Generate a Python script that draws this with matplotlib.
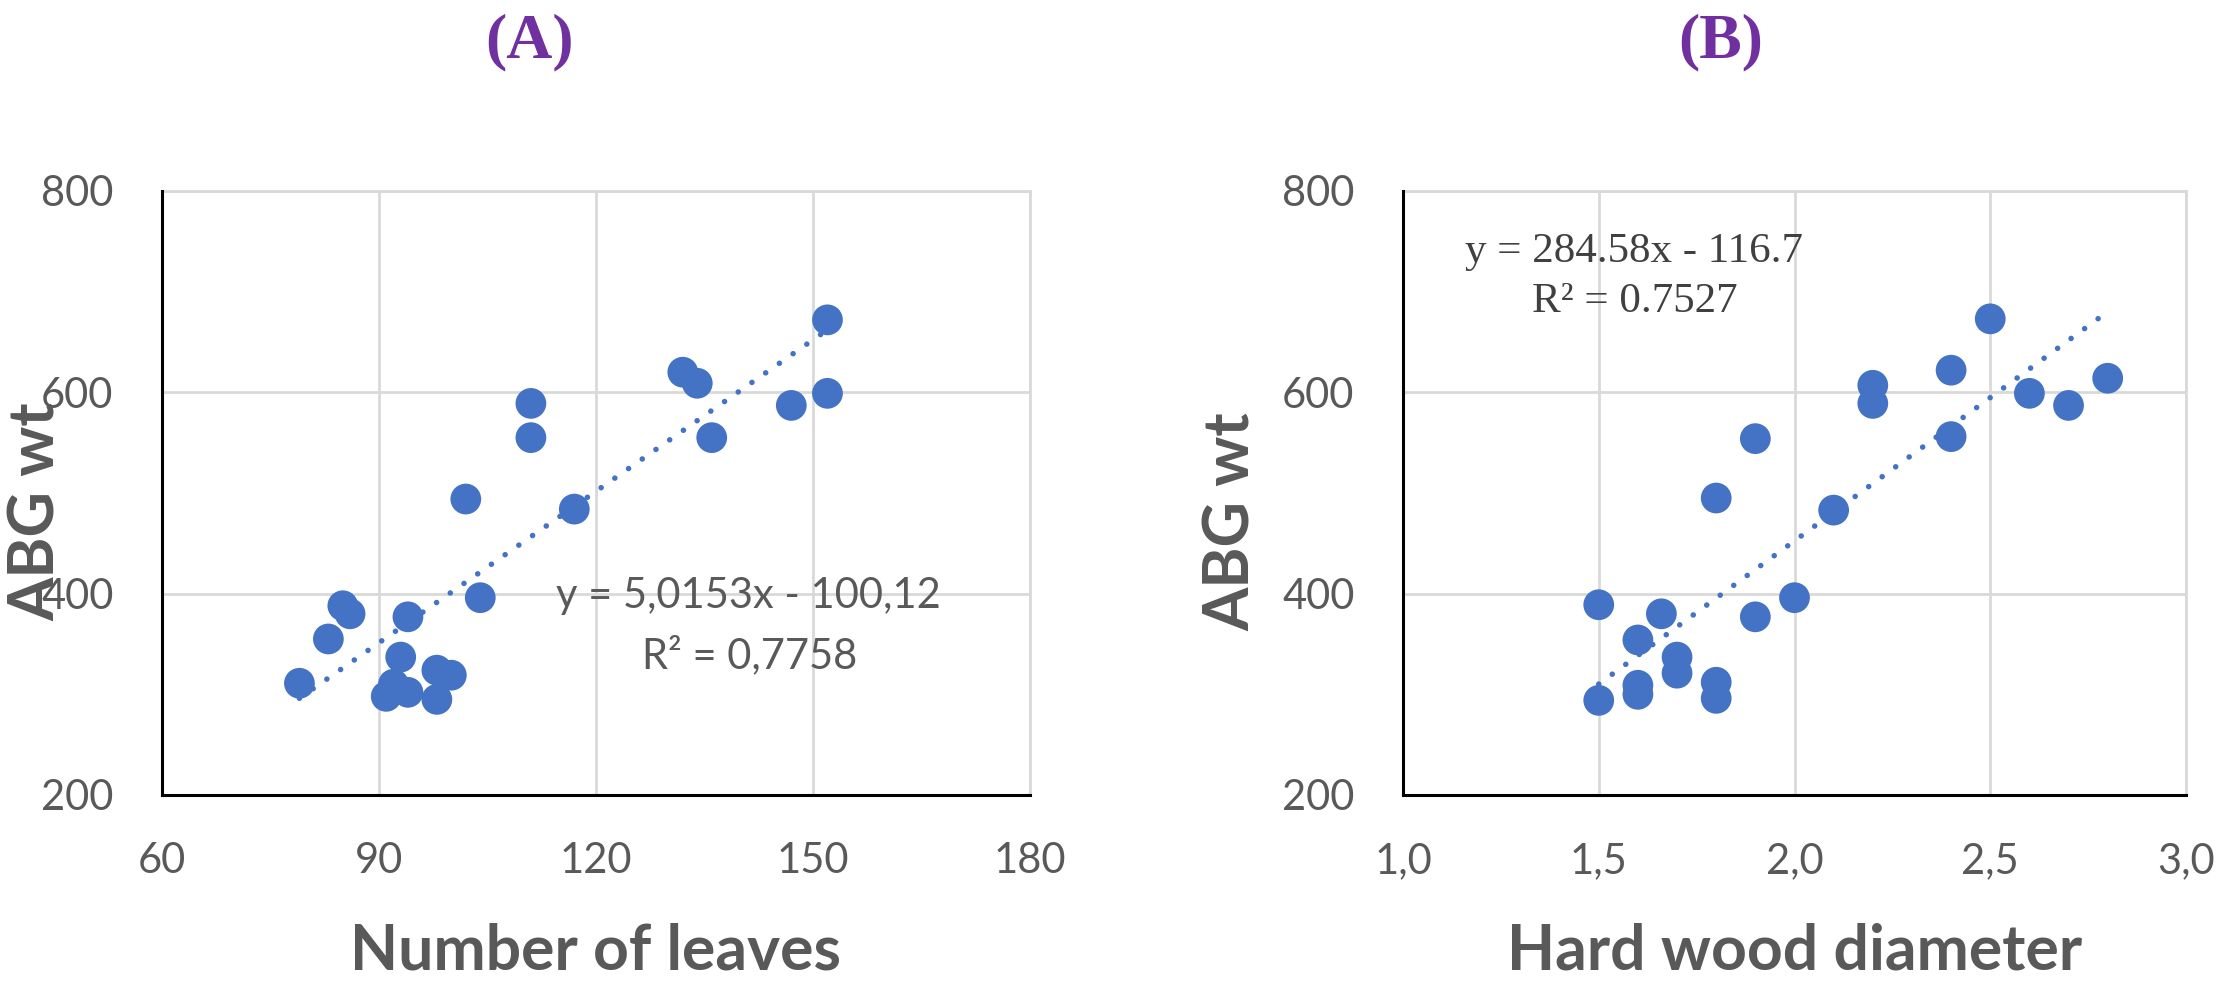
import matplotlib
matplotlib.use("Agg")
import matplotlib.pyplot as plt
import numpy as np

# ---------------- data ----------------
leaves = [79, 83, 85, 86, 91, 92, 93, 94, 94, 98, 98, 100, 102, 104, 111, 111, 117, 132, 134, 136, 147, 152, 152]
abg_a = [311, 355, 388, 380, 298, 310, 337, 377, 302, 324, 295, 319, 494, 396, 589, 555, 484, 620, 609, 555, 587, 672, 599]

diameter = [1.5, 1.5, 1.6, 1.6, 1.6, 1.66, 1.7, 1.7, 1.8, 1.8, 1.8, 1.9, 1.9, 2.0, 2.1, 2.2, 2.2, 2.4, 2.4, 2.5, 2.6, 2.7, 2.8]
abg_b = [389, 294, 354, 309, 300, 380, 337, 321, 495, 312, 296, 554, 377, 396, 483, 607, 589, 622, 556, 673, 599, 587, 614]

trend_a = (5.0153, -100.12)
trend_b = (284.58, -116.7)

xticks_a = [60, 90, 120, 150, 180]
xticklabels_a = ["60", "90", "120", "150", "180"]
xticks_b = [1.0, 1.5, 2.0, 2.5, 3.0]
xticklabels_b = ["1,0", "1,5", "2,0", "2,5", "3,0"]
yticks = [200, 400, 600, 800]
yticklabels = ["200", "400", "600", "800"]

titles = ["(A)", "(B)"]
xlabels = ["Number of leaves", "Hard wood diameter"]
ylabel = "ABG wt"
eq_a = ["y = 5,0153x - 100,12", "R\u00b2 = 0,7758"]
eq_b = ["y = 284.58x - 116.7", "R\u00b2 = 0.7527"]

# ---------------- style ----------------
W, H = 2228, 992
BLUE = "#4472C4"
GRID = "#d9d9d9"
TXT = "#595959"
PURPLE = "#7030A0"
SANS = "Lato"
SERIF = "Liberation Serif"

fig = plt.figure(figsize=(W / 100, H / 100), dpi=100)


def rect(l, t, r, b):
    return [l / W, 1 - b / H, (r - l) / W, (b - t) / H]


def ftext(x, y, s, **kw):
    fig.text(x / W, 1 - y / H, s, **kw)


axA = fig.add_axes(rect(162, 191, 1030, 795))
axB = fig.add_axes(rect(1403, 191, 2186, 795))


def style(ax, xlim, xt, xtl):
    ax.set_xlim(*xlim)
    ax.set_ylim(200, 800)
    ax.set_xticks(xt)
    ax.set_xticklabels(xtl)
    ax.set_yticks(yticks)
    ax.set_yticklabels(yticklabels)
    ax.grid(True, color=GRID, lw=2.0, zorder=0)
    ax.set_axisbelow(True)
    for s in ("top", "right"):
        ax.spines[s].set_color(GRID)
        ax.spines[s].set_linewidth(2.0)
    for s in ("left", "bottom"):
        ax.spines[s].set_color("black")
        ax.spines[s].set_linewidth(2.2)
        ax.spines[s].set_zorder(5)
    ax.tick_params(axis="both", length=0, labelsize=30, labelcolor=TXT)
    ax.tick_params(axis="y", pad=35)
    ax.tick_params(axis="x", pad=34)
    for lab in ax.get_xticklabels() + ax.get_yticklabels():
        lab.set_fontfamily(SANS)


def draw(ax, xs, ys, coef):
    ax.scatter(xs, ys, s=490, color=BLUE, edgecolors="none", zorder=3, clip_on=False)
    x0, x1 = min(xs), max(xs)
    tx = np.array([x0, x1])
    ax.plot(tx, coef[0] * tx + coef[1], color=BLUE, lw=4.0,
            linestyle=(0, (0.01, 3.0)), dash_capstyle="round", zorder=4)


draw(axA, leaves, abg_a, trend_a)
style(axA, (60, 180), xticks_a, xticklabels_a)
draw(axB, diameter, abg_b, trend_b)
style(axB, (1.0, 3.0), xticks_b, xticklabels_b)

# titles
ftext(530, 57, titles[0], ha="center", va="baseline", fontsize=46,
      fontweight="bold", color=PURPLE, family=SERIF)
ftext(1721, 57, titles[1], ha="center", va="baseline", fontsize=46,
      fontweight="bold", color=PURPLE, family=SERIF)

# axis labels
ftext(596, 969, xlabels[0], ha="center", va="baseline", fontsize=45,
      fontweight="bold", color=TXT, family=SANS)
ftext(1795, 969, xlabels[1], ha="center", va="baseline", fontsize=45,
      fontweight="bold", color=TXT, family=SANS)
ftext(55, 512, ylabel, ha="center", va="baseline", rotation=90,
      rotation_mode="anchor", fontsize=45, fontweight="bold", color=TXT, family=SANS)
ftext(1250, 522, ylabel, ha="center", va="baseline", rotation=90,
      rotation_mode="anchor", fontsize=45, fontweight="bold", color=TXT, family=SANS)

# equations
ftext(748, 608, eq_a[0], ha="center", va="baseline", fontsize=30, color=TXT, family=SANS)
ftext(750, 668, eq_a[1], ha="center", va="baseline", fontsize=30, color=TXT, family=SANS)
ftext(1634, 262, eq_b[0], ha="center", va="baseline", fontsize=31, color="#404040", family=SERIF)
ftext(1635, 312, eq_b[1], ha="center", va="baseline", fontsize=31, color="#404040", family=SERIF)

fig.savefig("out.png", dpi=100, facecolor="white")
